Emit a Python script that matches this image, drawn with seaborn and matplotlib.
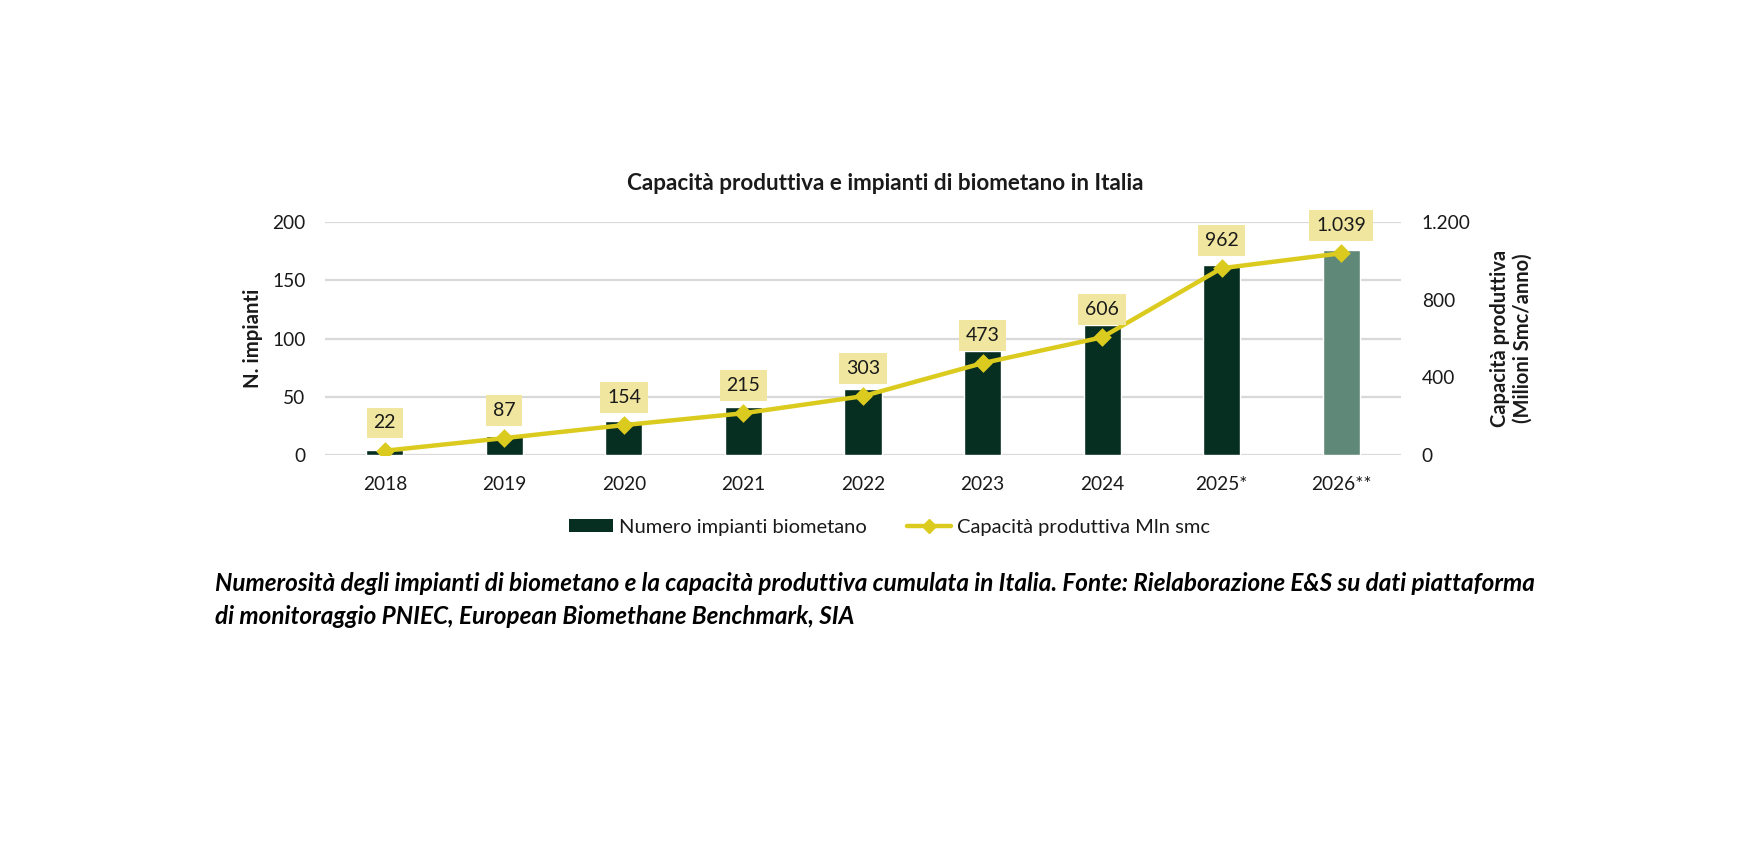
import matplotlib
matplotlib.use("Agg")
import matplotlib.pyplot as plt
import seaborn as sns
import pandas as pd
from matplotlib.patches import Patch
from matplotlib.lines import Line2D

# ---- data ----
years = ["2018", "2019", "2020", "2021", "2022", "2023", "2024", "2025*", "2026**"]
impianti = [4, 16, 29, 41, 57, 89, 112, 163, 176]
capacita = [22, 87, 154, 215, 303, 473, 606, 962, 1039]
left_ticks = [0, 50, 100, 150, 200]
right_ticks = [0, 400, 800, 1200]

title = "Capacità produttiva e impianti di biometano in Italia"
ylabel_left = "N. impianti"
ylabel_right = "Capacità produttiva\n(Milioni Smc/anno)"
legend_bar = "Numero impianti biometano"
legend_line = "Capacità produttiva Mln smc"
caption1 = ("Numerosità degli impianti di biometano e la capacità produttiva cumulata in Italia. "
            "Fonte: Rielaborazione E&S su dati piattaforma")
caption2 = "di monitoraggio PNIEC, European Biomethane Benchmark, SIA"

# ---- style ----
sns.set_theme(style="white")
plt.rcParams["font.family"] = ["Lato", "DejaVu Sans"]

BAR = "#062E21"
BAR_LIGHT = "#5F8878"
LINE = "#DCCB1F"
BOX = "#F0E6A0"
GRID = "#D9D9D9"
TXT = "#1A1A1A"

def it_fmt(v):
    return f"{int(v):,}".replace(",", ".")

df = pd.DataFrame({"anno": years, "impianti": impianti, "capacita": capacita})
bar_colors = [BAR] * (len(years) - 1) + [BAR_LIGHT]

fig = plt.figure(figsize=(17.58, 8.5), dpi=100)
ax = fig.add_axes([0.1849, 0.4647, 0.612, 0.2741])

sns.barplot(data=df, x="anno", y="impianti", hue="anno", palette=bar_colors,
            legend=False, width=0.31, ax=ax, saturation=1)

ax.set_ylim(0, 200)
ax.set_yticks(left_ticks)
ax.yaxis.grid(True, color=GRID, linewidth=1.6)
ax.set_axisbelow(True)
for s in ax.spines.values():
    s.set_visible(False)
ax.tick_params(axis="y", length=0, pad=14, labelsize=13.8, labelcolor=TXT)
ax.tick_params(axis="x", length=0, pad=15, labelsize=13.8, labelcolor=TXT)
ax.set_xlabel("")
ax.set_ylabel(ylabel_left, fontsize=14.7, fontweight="bold", color=TXT, labelpad=7)

ax2 = ax.twinx()
sns.pointplot(data=df, x="anno", y="capacita", color=LINE, markers="D",
              markersize=7, linewidth=3.2, ax=ax2)
ax2.set_ylim(0, 1200)
ax2.set_yticks(right_ticks)
ax2.set_yticklabels([it_fmt(v) for v in right_ticks])
ax2.set_xlim(-0.5, len(years) - 0.5)
ax.set_xlim(-0.5, len(years) - 0.5)
for s in ax2.spines.values():
    s.set_visible(False)
ax2.tick_params(axis="y", length=0, pad=15, labelsize=13.8, labelcolor=TXT)
ax2.set_ylabel(ylabel_right, fontsize=14.5, fontweight="bold", color=TXT,
               labelpad=14, linespacing=1.15)
ax2.grid(False)

for i, v in enumerate(capacita):
    ax2.annotate(it_fmt(v), xy=(i, v), xytext=(0, 20), textcoords="offset points",
                 ha="center", va="center", fontsize=14, color=TXT,
                 bbox=dict(boxstyle="square,pad=0.35", fc=BOX, ec="none"))

fig.text(0.5037, 0.7847, title, ha="center", va="center", fontsize=16.2,
         fontweight="bold", color=TXT)

handles = [Patch(facecolor=BAR, edgecolor="none"),
           Line2D([0], [0], color=LINE, lw=3.2, marker="D", markersize=7)]
fig.legend(handles, [legend_bar, legend_line], loc="center", bbox_to_anchor=(0.506, 0.38),
           ncol=2, frameon=False, fontsize=14.5, handlelength=2.2, handleheight=0.6,
           handletextpad=0.3, columnspacing=2.0, labelcolor=TXT)

fig.text(0.1223, 0.314, caption1, ha="left", va="center", fontsize=17.5,
         fontweight="bold", fontstyle="italic", color="black")
fig.text(0.1223, 0.275, caption2, ha="left", va="center", fontsize=17.5,
         fontweight="bold", fontstyle="italic", color="black")

fig.savefig("out.png", dpi=100, facecolor="white")
